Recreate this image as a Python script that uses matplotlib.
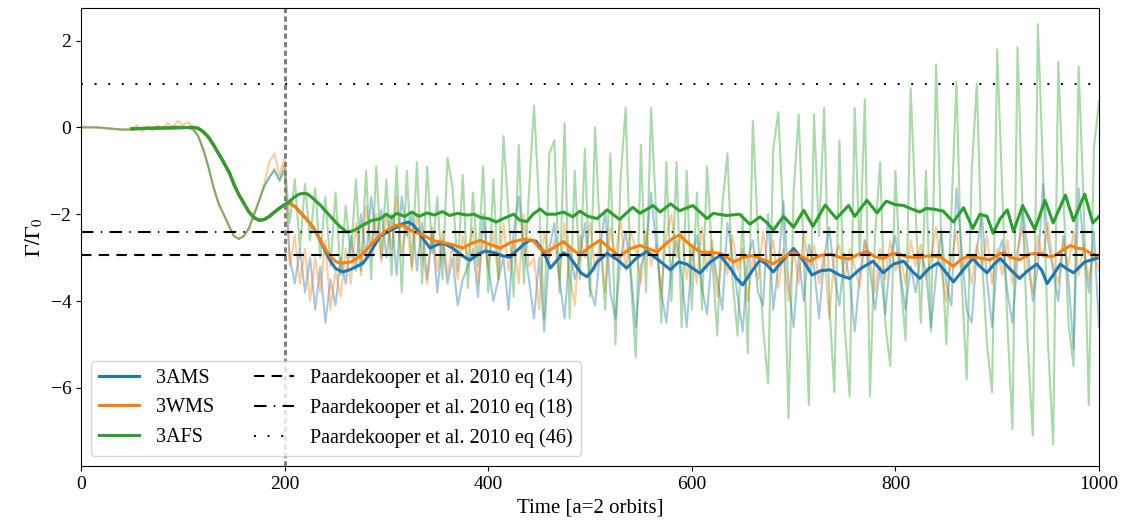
import numpy as np
import matplotlib
matplotlib.use('Agg')
import matplotlib.pyplot as plt
from matplotlib.lines import Line2D

plt.rcParams['font.family'] = ['Liberation Serif', 'DejaVu Serif']
plt.rcParams['mathtext.fontset'] = 'stix'
plt.rcParams['font.size'] = 14

# Raw torque, before t=200 (sampled every 5 orbits)
t_pre = list(range(0, 201, 5))
ams_pre = [0.0, 0.0, 0.0, 0.0, -0.01, -0.02, -0.03, -0.04, -0.05, -0.05, -0.05, -0.04, -0.04,
           -0.03, -0.02, -0.02, -0.01, -0.01, 0.0, 0.0, 0.0, -0.02, -0.05, -0.2, -0.5, -0.9,
           -1.37, -1.75, -2.0, -2.25, -2.5, -2.57, -2.5, -2.32, -2.0, -1.68, -1.35, -1.15,
           -1.0, -1.2, -1.0]
wms_pre = [0.0, 0.0, 0.0, 0.0, -0.01, -0.02, -0.03, -0.04, -0.05, -0.05, -0.05, 0.05, -0.1,
           0.02, -0.08, 0.05, -0.05, 0.1, 0.0, 0.15, 0.05, 0.12, 0.0, -0.2, -0.5, -0.9,
           -1.37, -1.75, -2.0, -2.25, -2.5, -2.57, -2.5, -2.32, -2.0, -1.68, -1.3, -0.8,
           -0.6, -1.1, -0.7]
afs_pre = [0.0, 0.0, 0.0, 0.0, -0.01, -0.02, -0.03, -0.04, -0.05, -0.05, -0.05, -0.04, -0.04,
           -0.03, -0.02, -0.02, -0.01, 0.0, 0.02, 0.03, 0.02, 0.0, -0.05, -0.2, -0.5, -0.9,
           -1.37, -1.75, -2.0, -2.25, -2.5, -2.57, -2.5, -2.32, -2.0, -1.68, -1.35, -1.15,
           -0.95, -1.25, -0.85]

# Raw torque after t=200 (every 5 orbits, t = 205 ... 1000)
t_post = list(range(205, 1001, 5))
ams_post = [-3.0, -3.6, -2.8, -3.8, -3.0, -4.2, -3.2, -4.5, -3.5, -4.1, -3.0, -3.6, -2.5, -3.3, -2.0, -3.0, -1.6, -2.6, -1.9, -3.0,
            -2.0, -3.4, -1.6, -2.5, -2.0, -3.3, -2.2, -3.5, -2.4, -3.8, -2.6, -3.6, -3.0, -4.1, -3.5, -3.2, -2.8, -3.9, -2.0, -3.2,
            -4.0, -3.5, -3.0, -4.2, -2.4, -1.6, -2.7, -3.5, -4.4, -3.0, -4.7, -2.8, -2.2, -3.5, -4.4, -2.8, -3.5, -3.0, -2.2, -3.7,
            -4.1, -2.8, -1.9, -3.8, -4.4, -3.0, -2.4, -3.3, -4.6, -3.2, -2.8, -1.5, -2.7, -3.8, -4.5, -3.2, -2.6, -3.4, -4.6, -3.0,
            -2.5, -3.7, -4.3, -2.8, -3.5, -4.2, -2.2, -3.0, -3.9, -4.7, -3.0, -2.6, -3.8, -4.1, -2.0, -4.2, -3.2, -1.7, -3.6, -4.6,
            -3.0, -4.0, -2.7, -3.2, -4.4, -3.0, -2.3, -3.4, -4.1, -2.9, -3.5, -4.7, -3.4, -2.6, -3.3, -4.2, -3.2, -4.3, -3.0, -2.5,
            -3.4, -4.2, -3.2, -3.8, -2.9, -3.3, -4.6, -3.4, -2.4, -3.6, -4.1, -1.4, -2.8, -4.2, -4.5, -2.8, -2.0, -3.5, -4.6, -3.0,
            -2.6, -3.8, -4.5, -3.0, -1.9, -2.8, -4.0, -3.2, -1.3, -2.6, -3.3, -4.0, -2.5, -3.5, -5.1, -1.4, -2.8, -3.8, -2.4, -4.6]
wms_post = [-3.2, -2.5, -3.6, -2.8, -4.0, -3.0, -3.8, -2.6, -4.2, -3.3, -3.9, -2.8, -3.6, -2.2, -3.4, -1.8, -2.7, -2.0, -3.1, -2.0,
            -2.8, -1.6, -2.9, -2.2, -3.3, -2.0, -2.8, -3.6, -2.3, -3.3, -2.4, -3.4, -2.7, -3.5, -2.5, -3.0, -2.3, -3.6, -2.6, -3.2,
            -2.4, -3.5, -2.2, -3.3, -2.6, -3.6, -2.0, -3.2, -3.0, -4.2, -2.4, -3.0, -2.6, -3.5, -2.2, -3.4, -4.1, -2.5, -3.0, -2.2,
            -3.3, -2.6, -3.8, -2.3, -3.0, -2.1, -3.3, -2.4, -2.8, -3.6, -2.4, -3.2, -2.7, -3.8, -2.5, -2.0, -3.0, -2.4, -3.5, -2.7,
            -3.6, -2.3, -3.3, -2.6, -3.9, -2.9, -3.4, -2.5, -3.3, -2.8, -4.0, -3.0, -3.5, -2.4, -3.2, -2.6, -3.7, -2.8, -4.0, -2.8,
            -3.6, -2.4, -3.3, -2.7, -3.6, -2.9, -4.4, -3.0, -2.7, -3.5, -2.8, -3.2, -3.7, -2.6, -3.0, -3.8, -2.8, -3.5, -2.6, -3.3,
            -3.0, -3.6, -2.6, -3.2, -2.7, -3.5, -3.0, -2.3, -3.3, -4.0, -3.0, -2.4, -3.4, -3.0, -3.6, -2.7, -3.2, -2.5, -3.6, -2.8,
            -3.4, -2.6, -3.6, -2.8, -2.3, -3.2, -3.8, -2.5, -3.0, -2.2, -3.2, -3.6, -2.6, -3.2, -2.4, -3.4, -2.7, -3.5, -2.9, -3.3]
afs_post = [-2.2, -1.2, -2.8, -1.3, -2.6, -1.4, -3.0, -1.6, -3.2, -1.5, -3.4, -1.8, -3.0, -1.2, -3.3, -1.0, -3.5, -0.9, -3.0, -1.2,
            -3.4, -0.9, -3.8, -1.0, -3.2, -0.8, -3.6, -0.9, -2.9, -1.6, -3.5, -0.7, -1.4, -3.3, -1.1, -3.7, -1.5, -3.2, -0.9, -3.8,
            -1.2, -3.5, -0.2, -2.0, -3.9, -0.4, -3.6, -1.5, 0.5, -1.8, -4.4, -0.6, -0.3, -3.8, 0.1, -4.4, -1.0, -3.5, -0.5, -3.9,
            0.0, -2.6, -4.2, -0.6, -5.0, -1.2, 0.45, -3.5, -5.3, -0.4, -3.8, 0.45, -2.0, -4.5, -0.8, -4.0, -0.8, -4.6, -1.0, -4.2,
            -1.5, -4.2, -0.9, -3.0, -4.8, -1.8, -0.6, -3.5, -4.8, -2.0, -5.2, 0.15, -2.5, -4.6, -5.9, -0.5, 0.35, -2.2, -6.7, -1.5,
            0.3, -3.0, -6.4, 0.3, -2.5, 0.45, -4.0, -6.1, -0.3, -4.5, -6.2, 0.45, -3.0, 0.65, -6.2, -2.5, -0.8, -4.5, -5.5, -1.0,
            -3.5, -4.9, 0.9, -2.0, -4.5, -1.0, -4.7, 1.45, -2.5, -5.0, -2.0, 1.05, -3.5, -5.8, -1.0, 1.0, -3.0, -5.0, -6.1, 1.8,
            -1.5, -4.5, -6.95, 1.85, -2.0, -5.0, -7.1, 2.38, -1.0, -5.0, -7.3, 1.5, -1.5, -4.5, -5.5, 1.4, -1.8, -6.4, -0.5, 0.6]

# Running mean (thick lines), read at the turning points
t_sm_pre = [50, 70, 90, 110, 115, 120, 125, 130, 135, 140, 146, 150, 155, 160, 165, 170, 175, 180,
            185, 190, 195, 200]
sm_pre = [-0.03, -0.02, -0.01, 0.0, -0.02, -0.1, -0.22, -0.4, -0.6, -0.8, -1.06, -1.3, -1.55,
          -1.75, -1.95, -2.08, -2.14, -2.12, -2.05, -1.95, -1.86, -1.78]

t_ams_sm = [205, 210, 215, 221, 228, 234, 240, 245, 250, 257, 265, 271, 277, 281, 285, 290, 294, 302, 310, 316,
            321, 326, 330, 337, 343, 350, 356, 365, 374, 382, 390, 397, 405, 413, 421, 430, 436, 441, 447, 455,
            461, 468, 474, 480, 485, 491, 497, 502, 507, 517, 527, 536, 546, 556, 567, 579, 587, 595, 608, 618,
            628, 638, 644, 650, 658, 667, 673, 680, 690, 700, 709, 718, 727, 736, 745, 755, 766, 778, 788, 798,
            808, 816, 824, 833, 842, 850, 857, 866, 876, 883, 890, 897, 903, 912, 922, 930, 939, 944, 949, 955,
            962, 968, 975, 986, 1000]
ams_sm = [-1.75, -1.82, -1.95, -2.1, -2.3, -2.55, -2.85, -3.08, -3.25, -3.33, -3.27, -3.2, -3.13, -3.0, -2.85, -2.65, -2.5, -2.4, -2.3, -2.22,
          -2.18, -2.24, -2.35, -2.6, -2.78, -2.7, -2.67, -2.78, -2.95, -3.06, -2.92, -2.85, -2.88, -2.95, -2.99, -2.8, -2.67, -2.6, -2.62, -2.9,
          -3.24, -3.05, -2.89, -2.98, -3.15, -3.35, -3.44, -3.3, -3.1, -2.9, -3.05, -3.24, -3.0, -2.86, -3.05, -3.28, -3.1, -3.15, -3.36, -3.1,
          -2.95, -3.25, -3.48, -3.63, -3.35, -3.05, -3.15, -3.33, -3.05, -2.79, -3.05, -3.4, -3.3, -3.28, -3.4, -3.48, -3.25, -3.08, -3.35, -3.15,
          -3.08, -3.3, -3.48, -3.25, -3.12, -3.35, -3.56, -3.3, -3.02, -3.2, -3.35, -3.15, -3.02, -3.25, -3.48, -3.3, -3.15, -3.3, -3.6, -3.4,
          -3.15, -3.25, -3.35, -3.1, -3.0]

t_wms_sm = [205, 210, 215, 221, 228, 234, 240, 245, 251, 256, 265, 270, 275, 280, 285, 290, 294, 302, 310, 318,
            326, 336, 345, 355, 365, 375, 383, 392, 402, 412, 422, 434, 444, 451, 457, 466, 474, 482, 490, 500,
            510, 520, 529, 539, 549, 558, 566, 576, 582, 588, 598, 608, 618, 628, 635, 641, 650, 660, 670, 680,
            690, 700, 708, 716, 726, 736, 746, 755, 764, 772, 780, 788, 795, 801, 811, 821, 832, 844, 851, 857,
            864, 870, 881, 893, 900, 906, 914, 922, 932, 942, 949, 955, 963, 972, 978, 984, 992, 1000]
wms_sm = [-1.75, -1.82, -1.95, -2.1, -2.3, -2.55, -2.8, -2.98, -3.1, -3.13, -3.1, -3.03, -2.95, -2.83, -2.7, -2.57, -2.48, -2.35, -2.25, -2.28,
          -2.4, -2.48, -2.6, -2.65, -2.7, -2.78, -2.68, -2.6, -2.7, -2.78, -2.65, -2.58, -2.6, -2.8, -2.87, -2.75, -2.63, -2.8, -2.94, -2.75,
          -2.6, -2.8, -2.97, -2.8, -2.72, -2.8, -2.87, -2.65, -2.55, -2.48, -2.7, -2.87, -2.88, -2.9, -3.0, -3.1, -3.0, -2.95, -3.05, -3.14,
          -3.0, -2.87, -2.98, -3.08, -2.95, -2.92, -3.0, -3.03, -2.92, -2.86, -2.98, -3.02, -2.93, -2.9, -2.98, -3.0, -2.96, -2.98, -3.1, -3.2,
          -3.05, -2.98, -3.0, -3.05, -2.95, -2.88, -3.0, -3.05, -2.92, -2.9, -2.97, -2.97, -2.85, -2.72, -2.78, -2.8, -2.9, -2.97]

t_afs_sm = [205, 210, 214, 218, 222, 225, 230, 235, 240, 245, 250, 255, 261, 265, 270, 277, 285, 294, 300, 305,
            310, 318, 325, 332, 340, 347, 355, 362, 370, 379, 386, 393, 400, 408, 415, 425, 431, 438, 444, 451,
            457, 466, 474, 483, 490, 498, 507, 517, 529, 542, 549, 562, 569, 579, 588, 601, 615, 621, 634, 647,
            657, 667, 674, 680, 690, 700, 710, 719, 731, 742, 754, 760, 772, 782, 791, 800, 808, 816, 824, 830,
            837, 847, 857, 867, 876, 883, 890, 896, 903, 910, 916, 925, 937, 947, 955, 967, 975, 986, 994, 1000]
afs_sm = [-1.7, -1.6, -1.54, -1.52, -1.53, -1.58, -1.68, -1.79, -1.92, -2.05, -2.18, -2.3, -2.41, -2.4, -2.35, -2.25, -2.15, -2.1, -2.0, -2.08,
          -1.98, -2.05, -1.95, -2.05, -1.97, -2.02, -1.94, -2.03, -1.98, -2.02, -2.0, -2.08, -2.1, -2.18, -2.1, -2.0, -2.14, -2.17, -2.0, -1.88,
          -2.0, -2.0, -1.95, -2.06, -1.93, -2.05, -2.1, -1.9, -2.12, -1.84, -1.98, -1.8, -1.95, -1.76, -1.92, -1.8, -2.1, -1.98, -2.03, -2.0,
          -2.23, -2.06, -2.2, -2.37, -2.05, -2.3, -1.91, -2.28, -1.79, -2.1, -1.8, -2.05, -1.68, -1.97, -1.7, -1.78, -1.8, -1.88, -1.95, -1.87,
          -1.88, -1.93, -2.18, -1.85, -2.33, -2.0, -2.05, -2.44, -2.1, -1.9, -2.4, -1.8, -2.35, -1.68, -2.2, -1.56, -2.15, -1.54, -2.2, -2.05]

# Analytic torques (Paardekooper et al. 2010)
eq14 = -2.95
eq18 = -2.42
eq46 = 1.0

labels = ['3AMS', '3WMS', '3AFS']
colors = ['tab:blue', 'tab:orange', 'tab:green']

fig = plt.figure(figsize=(11.26, 5.32), dpi=100)
ax = fig.add_axes([0.072, 0.124, 0.904, 0.861])

raw = [(ams_pre, ams_post), (wms_pre, wms_post), (afs_pre, afs_post)]
smooth = [(t_ams_sm, ams_sm), (t_wms_sm, wms_sm), (t_afs_sm, afs_sm)]

# faint raw curves
for (pre, post), c in zip(raw, colors):
    ax.plot(t_pre + t_post, pre + post, color=c, alpha=0.4, lw=1.5)

# thick smoothed curves
for (ts, vs), c in zip(smooth, colors):
    ax.plot(t_sm_pre + ts, sm_pre + vs, color=c, lw=2.2, solid_joinstyle='round')

ax.axhline(eq14, color='black', lw=1.5, linestyle=(0, (5, 3.5)))
ax.axhline(eq18, color='black', lw=1.5, linestyle=(0, (6, 3.5, 0.7, 3.5)))
ax.axhline(eq46, color='black', lw=1.4, linestyle=(0, (1, 6)))
ax.axvline(200, color='gray', lw=2.2, linestyle=(0, (1.7, 1.1)))

ax.set_xlim(0, 1000)
ax.set_ylim(-7.8, 2.75)
ax.set_yticks([-6, -4, -2, 0, 2])
ax.set_xlabel('Time [a=2 orbits]', fontsize=15)
ax.set_ylabel(r'$\Gamma/\Gamma_0$', fontsize=15)

handles = [Line2D([], [], color=c, lw=2.2) for c in colors]
handles += [Line2D([], [], color='black', lw=1.5, linestyle=(0, (5, 3.5))),
            Line2D([], [], color='black', lw=1.5, linestyle=(0, (6, 3.5, 0.7, 3.5))),
            Line2D([], [], color='black', lw=1.4, linestyle=(0, (1, 6)))]
names = labels + ['Paardekooper et al. 2010 eq (14)',
                  'Paardekooper et al. 2010 eq (18)',
                  'Paardekooper et al. 2010 eq (46)']
ax.legend(handles, names, loc='lower left', ncol=2, fontsize=14.5)

fig.savefig('out.png', dpi=100)
